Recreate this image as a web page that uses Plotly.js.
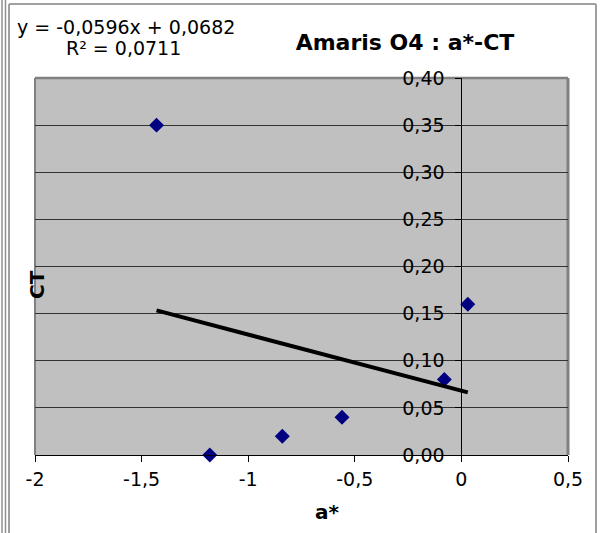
<!DOCTYPE html>
<html>
<head>
<meta charset="utf-8">
<script src="https://cdn.plot.ly/plotly-3.0.1.min.js"></script>
<style>html,body{margin:0;padding:0;background:#fff;}#chart{width:600px;height:533px;}</style>
</head>
<body>
<div id="chart"></div>
<script>
// Data
const aStar = [-1.43, -1.18, -0.84, -0.56, -0.08, 0.03];
const ct    = [0.35, 0.00, 0.02, 0.04, 0.08, 0.16];
// Trendline coefficients (as printed on the chart)
const slope = -0.0596;
const intercept = 0.0682;
const rSquared = 0.0711;
const chartTitle = "Amaris O4 : a*-CT";
const xTitle = "a*";
const yTitle = "CT";
// Tick labels
const xTickVals = [-2, -1.5, -1, -0.5, 0, 0.5];
const xTickText = ["-2", "-1,5", "-1", "-0,5", "0", "0,5"];
const yTickVals = [0, 0.05, 0.10, 0.15, 0.20, 0.25, 0.30, 0.35, 0.40];
const yTickText = ["0,00", "0,05", "0,10", "0,15", "0,20", "0,25", "0,30", "0,35", "0,40"];

const fmt = v => v.toFixed(4).replace('.', ',');
const xMin = Math.min(...aStar), xMax = Math.max(...aStar);
const trendX = [xMin, xMax];
const trendY = trendX.map(x => slope * x + intercept);

const FONT = "DejaVu Sans, Arial, sans-serif";

const traces = [
  {
    x: aStar, y: ct, type: 'scatter', mode: 'markers',
    marker: {symbol: 'diamond', size: 11.5, color: '#000080'},
    cliponaxis: false, showlegend: false, hoverinfo: 'skip'
  },
  {
    x: trendX, y: trendY, type: 'scatter', mode: 'lines',
    line: {color: '#000000', width: 4},
    showlegend: false, hoverinfo: 'skip'
  }
];

// pixel helpers for decoration placement (paper coords)
const L = 35, R = 32, T = 78, B = 78, W = 600, H = 533;
const pw = W - L - R, ph = H - T - B;
const px = x => (x - L) / pw;
const py = y => (H - B - y) / ph;

const layout = {
  width: W, height: H,
  margin: {l: L, r: R, t: T, b: B, pad: 0},
  paper_bgcolor: '#ffffff',
  plot_bgcolor: '#c0c0c0',
  separators: ', ',
  font: {family: FONT, size: 19, color: '#000000'},
  showlegend: false,
  title: {
    text: '<b>' + chartTitle + '</b>',
    font: {family: FONT, size: 22, color: '#000000'},
    xref: 'container', yref: 'container',
    x: 405 / W, y: 1 - 42 / H, xanchor: 'center', yanchor: 'middle'
  },
  xaxis: {
    range: [-2, 0.5], tickmode: 'array', tickvals: xTickVals, ticktext: xTickText,
    showgrid: false, zeroline: false,
    showline: true, linecolor: '#000000', linewidth: 1,
    ticks: 'outside', ticklen: 6, tickcolor: '#000000', tickwidth: 1,
    ticklabelstandoff: 1,
    tickfont: {family: FONT, size: 19, color: '#000000'},
    fixedrange: true
  },
  yaxis: {
    range: [0, 0.4], tickmode: 'array', tickvals: yTickVals, ticktext: yTickText,
    anchor: 'free', position: 0.8,
    showgrid: true, gridcolor: '#333333', gridwidth: 1,
    zeroline: false,
    showline: true, linecolor: '#000000', linewidth: 1,
    ticks: 'outside', ticklen: 6, tickcolor: '#000000', tickwidth: 1,
    ticklabelstandoff: 7,
    tickfont: {family: FONT, size: 19, color: '#000000'},
    fixedrange: true
  },
  shapes: [
    // plot area frame
    {type: 'line', xref: 'paper', yref: 'paper', x0: 0, x1: 1, y0: 1, y1: 1, line: {color: '#808080', width: 2.5}, layer: 'below'},
    {type: 'line', xref: 'paper', yref: 'paper', x0: 1, x1: 1, y0: 0, y1: 1, line: {color: '#808080', width: 3}, layer: 'below'},
    {type: 'line', xref: 'paper', yref: 'paper', x0: 0, x1: 0, y0: 0, y1: 1, line: {color: '#808080', width: 2}, layer: 'below'},
    // chart outer border
    {type: 'line', xref: 'paper', yref: 'paper', x0: px(9), x1: px(596), y0: py(4), y1: py(4), line: {color: '#a0a0a0', width: 2}},
    {type: 'line', xref: 'paper', yref: 'paper', x0: px(9), x1: px(9), y0: py(4), y1: py(533), line: {color: '#a0a0a0', width: 2}},
    {type: 'line', xref: 'paper', yref: 'paper', x0: px(596), x1: px(596), y0: py(4), y1: py(533), line: {color: '#a0a0a0', width: 2}},
    {type: 'line', xref: 'paper', yref: 'paper', x0: px(2), x1: px(2), y0: py(0), y1: py(533), line: {color: '#909090', width: 1.5}},
    {type: 'line', xref: 'paper', yref: 'paper', x0: px(5.5), x1: px(5.5), y0: py(0), y1: py(533), line: {color: '#909090', width: 1.5}}
  ],
  annotations: [
    {text: 'y = ' + fmt(slope) + 'x + ' + fmt(intercept), xref: 'paper', yref: 'paper',
     x: px(126), y: py(27), xanchor: 'center', yanchor: 'middle', showarrow: false,
     font: {family: FONT, size: 19, color: '#000000'}},
    {text: 'R² = ' + fmt(rSquared), xref: 'paper', yref: 'paper',
     x: px(123), y: py(48), xanchor: 'center', yanchor: 'middle', showarrow: false,
     font: {family: FONT, size: 19, color: '#000000'}},
    {text: '<b>' + xTitle + '</b>', xref: 'paper', yref: 'paper',
     x: px(327), y: py(512), xanchor: 'center', yanchor: 'middle', showarrow: false,
     font: {family: FONT, size: 20, color: '#000000'}},
    {text: '<b>' + yTitle + '</b>', xref: 'paper', yref: 'paper', textangle: -90,
     x: px(37), y: py(285), xanchor: 'center', yanchor: 'middle', showarrow: false,
     font: {family: FONT, size: 20, color: '#000000'}}
  ]
};

Plotly.newPlot('chart', traces, layout, {staticPlot: true, displayModeBar: false});
</script>
</body>
</html>
